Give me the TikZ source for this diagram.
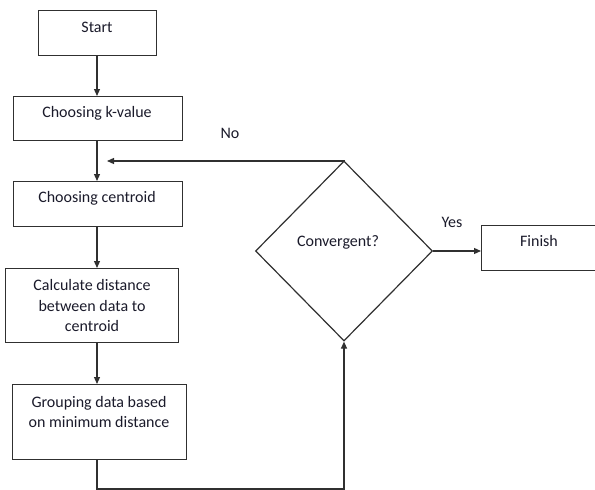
\documentclass[tikz,border=0pt]{standalone}
\usepackage{fontspec}
\setmainfont{Carlito}
\usetikzlibrary{arrows.meta,shapes.geometric}
\definecolor{ln}{HTML}{303030}
\definecolor{tx}{HTML}{1A1A2A}
\tikzset{
  box/.style={draw=ln, line width=1.2pt, rectangle, inner sep=0pt, anchor=north west},
  txt/.style={text=tx, font=\fontsize{16}{20.5}\selectfont, align=center, inner sep=0pt},
  conn/.style={draw=ln, line width=1.2pt, -{Triangle[length=7pt,width=6pt]}},
}
\begin{document}
\begin{tikzpicture}[x=1pt,y=-1pt]
\useasboundingbox (0,0) rectangle (595,490);
\clip (0,0) rectangle (595,490);
% boxes
\node[box, minimum width=118pt, minimum height=45pt] (start) at (38,10) {};
\node[box, minimum width=169pt, minimum height=44pt] (kval) at (13,96) {};
\node[box, minimum width=169pt, minimum height=45pt] (cent) at (13,181) {};
\node[box, minimum width=173pt, minimum height=74pt] (calc) at (5,268) {};
\node[box, minimum width=174pt, minimum height=75pt] (grp) at (12,384) {};
\node[box, minimum width=117pt, minimum height=45pt] (fin) at (481,225) {};
\node[draw=ln, line width=1.2pt, diamond, inner sep=0pt, minimum width=177pt, minimum height=180pt] (conv) at (344,251) {};
% texts
\node[txt] (tstart) at (97,27) {Start};
\node[txt] (tk) at (97,113) {Choosing k-value};
\node[txt] (tc) at (97,198) {Choosing centroid};
\node[txt] (tcalc) at (92,306) {Calculate distance\\between data to\\centroid};
\node[txt] (tgrp) at (99,412) {Grouping data based\\on minimum distance};
\node[txt] (tconv) at (338,242) {Convergent?};
\node[txt] (tfin) at (539,241) {Finish};
\node[txt] (no) at (230,133) {No};
\node[txt] (yes) at (452,222) {Yes};
% connectors
\coordinate (s1) at (97,55);
\coordinate (k0) at (97,96);
\coordinate (k1) at (97,140);
\coordinate (c0) at (97,181);
\coordinate (c1) at (97,226);
\coordinate (d0) at (97,268);
\coordinate (d1) at (97,342);
\coordinate (g0) at (97,384);
\coordinate (g1) at (97,459);
\coordinate (b1) at (97,489);
\coordinate (b2) at (344,489);
\coordinate (noend) at (107,161);
\draw[conn] (s1) -- (k0);
\draw[conn] (k1) -- (c0);
\draw[conn] (c1) -- (d0);
\draw[conn] (d1) -- (g0);
\draw[conn] (g1) -- (b1) -- (b2) -- (conv.south);
\draw[conn] (conv.north) |- (noend);
\draw[conn] (conv.east) -- (fin.west |- conv.east);
\end{tikzpicture}
\end{document}
